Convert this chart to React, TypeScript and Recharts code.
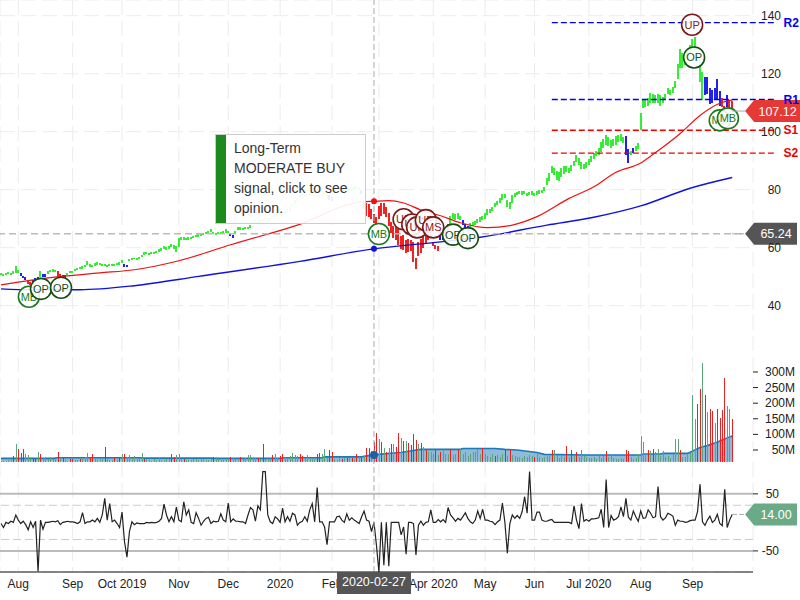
import {
  Area,
  Bar,
  CartesianGrid,
  Cell,
  ComposedChart,
  Line,
  ReferenceDot,
  ReferenceLine,
  XAxis,
  YAxis,
} from "recharts"

const FONT = '"Liberation Sans", Arial, sans-serif'

// daily price range, one entry per trading day
const highs = [
  51.3, 51.0, 51.3, 51.6, 51.2, 52.0, 53.6, 52.4, 51.3, 50.4,
  49.8, 48.4, 48.2, 48.9, 49.6, 49.9, 52.0, 51.0, 50.9, 51.8,
  52.4, 52.5, 52.4, 52.1, 50.8, 50.5, 50.6, 51.4, 52.0, 52.0,
  52.7, 53.0, 53.3, 53.6, 54.2, 55.3, 54.4, 54.0, 54.6, 54.9,
  54.8, 54.5, 54.5, 54.1, 54.4, 54.3, 54.5, 54.8, 55.0, 55.9,
  54.5, 54.2, 56.0, 56.4, 56.6, 56.5, 56.9, 57.6, 58.5, 58.5,
  58.3, 58.5, 58.6, 58.8, 59.4, 60.0, 60.5, 60.2, 60.6, 61.2,
  61.0, 60.6, 63.5, 63.8, 63.6, 63.4, 63.6, 63.8, 64.0, 64.5,
  64.6, 64.9, 65.2, 65.4, 65.9, 66.3, 65.5, 65.1, 65.3, 65.5,
  65.6, 66.3, 65.8, 64.9, 64.5, 65.8, 67.0, 67.0, 66.8, 67.0,
  67.2, 67.8, 69.0, 69.4, 69.2, 69.6, 70.0, 70.5, 70.1, 70.4,
  70.9, 71.5, 72.0, 72.4, 72.0, 72.6, 73.2, 74.0, 75.2, 76.4,
  77.2, 78.2, 78.6, 78.3, 78.6, 78.9, 78.6, 78.1, 78.3, 78.0,
  78.4, 78.8, 78.2, 78.0, 77.6, 79.0, 79.6, 80.1, 80.4, 80.0,
  80.2, 80.6, 80.6, 81.0, 81.4, 81.0, 80.0, 76.0, 75.5, 75.0,
  73.5, 71.5, 70.5, 74.5, 75.4, 75.3, 74.0, 72.0, 69.0, 67.5,
  67.5, 66.5, 64.0, 64.5, 62.5, 63.0, 62.5, 62.0, 56.5, 62.0,
  63.0, 64.5, 65.0, 65.5, 66.0, 62.0, 61.0, 60.5, 66.0, 64.0,
  66.0, 68.0, 71.0, 72.0, 71.5, 71.8, 71.0, 69.5, 68.2, 67.5,
  68.5, 69.0, 69.3, 69.8, 70.5, 71.0, 71.8, 73.2, 73.5, 74.2,
  75.4, 76.0, 77.0, 78.4, 78.6, 76.5, 75.8, 78.0, 79.0, 79.2,
  79.6, 79.4, 79.6, 79.0, 79.2, 79.4, 79.0, 79.4, 79.8, 80.0,
  80.8, 84.0, 85.7, 88.2, 87.5, 86.5, 86.0, 87.5, 88.0, 88.2,
  87.5, 88.5, 90.0, 92.0, 91.0, 89.5, 89.0, 89.5, 90.5, 91.5,
  92.5, 93.5, 94.5, 96.5, 97.5, 99.0, 98.0, 97.0, 97.5, 98.5,
  99.0, 99.3, 98.0, 98.5, 94.0, 93.5, 94.3, 95.0, 96.0, 106.3,
  111.0, 111.0, 111.5, 113.5, 113.0, 112.5, 113.0, 112.5, 112.0, 113.0,
  115.0, 114.5, 115.5, 117.5, 123.5, 128.5, 127.0, 126.0, 128.0, 130.0,
  132.0, 132.5, 129.0, 125.0, 120.5, 118.7, 119.0, 115.0, 114.5, 115.0,
  118.0, 114.0, 111.5, 109.0, 112.5, 111.0, 110.5,
]

const lows = [
  50.5, 50.2, 50.6, 50.9, 50.5, 51.0, 51.2, 51.2, 50.3, 49.6,
  49.0, 47.5, 47.2, 47.6, 48.5, 48.9, 50.0, 49.9, 49.9, 50.8,
  51.6, 51.7, 51.6, 50.0, 49.8, 49.5, 49.7, 50.5, 51.2, 51.3,
  52.0, 52.3, 52.6, 52.8, 53.2, 54.0, 53.4, 53.2, 53.8, 54.1,
  54.1, 53.8, 53.7, 53.4, 53.7, 53.6, 53.8, 54.1, 54.2, 54.8,
  53.3, 53.2, 55.3, 55.7, 56.0, 55.8, 56.2, 56.7, 57.6, 57.7,
  57.6, 57.7, 57.9, 58.0, 58.5, 59.0, 59.6, 59.2, 59.7, 60.2,
  59.6, 58.6, 60.3, 62.8, 62.7, 62.6, 62.8, 63.0, 63.2, 63.7,
  63.8, 64.1, 64.4, 64.6, 65.1, 65.4, 64.6, 64.4, 64.6, 64.7,
  64.8, 65.0, 65.0, 64.0, 63.5, 64.6, 66.0, 66.2, 66.1, 66.3,
  66.4, 66.9, 68.1, 68.5, 68.3, 68.8, 69.1, 69.6, 69.2, 69.5,
  70.0, 70.5, 71.0, 71.4, 71.0, 71.6, 72.2, 72.8, 74.0, 75.0,
  76.0, 77.0, 77.6, 77.4, 77.7, 78.0, 77.7, 77.2, 77.4, 77.1,
  77.6, 78.0, 77.3, 76.4, 76.2, 78.0, 78.6, 79.0, 79.4, 79.0,
  79.3, 79.6, 79.7, 80.0, 80.4, 80.0, 78.4, 73.5, 71.0, 70.5,
  69.8, 68.5, 67.8, 70.0, 71.0, 71.5, 70.5, 67.5, 65.0, 63.5,
  62.5, 61.0, 59.5, 59.2, 58.0, 58.5, 59.0, 55.0, 52.7, 57.0,
  58.0, 60.0, 61.5, 62.5, 63.5, 60.5, 59.5, 59.0, 62.5, 62.8,
  64.0, 66.0, 68.0, 70.0, 69.7, 70.0, 69.4, 67.8, 66.5, 65.8,
  67.0, 67.5, 67.9, 68.4, 69.0, 69.6, 70.0, 71.4, 72.0, 72.8,
  74.0, 74.6, 75.4, 76.6, 77.0, 74.0, 73.2, 75.5, 77.5, 78.0,
  78.4, 78.2, 78.4, 77.8, 78.0, 78.2, 77.7, 78.2, 78.6, 78.8,
  79.4, 81.5, 83.0, 85.6, 85.0, 83.5, 83.0, 84.5, 85.5, 86.0,
  85.8, 86.5, 88.0, 89.5, 88.5, 87.0, 87.0, 87.5, 88.5, 89.5,
  90.5, 91.5, 92.0, 93.0, 94.5, 95.5, 95.0, 94.5, 95.0, 95.5,
  96.5, 96.8, 96.0, 92.0, 89.2, 92.0, 92.6, 93.2, 94.0, 100.5,
  108.0, 108.5, 109.0, 110.0, 110.0, 110.0, 110.0, 109.0, 110.0, 111.0,
  113.0, 112.5, 113.5, 115.0, 118.0, 122.0, 122.0, 123.0, 125.0, 127.0,
  129.0, 128.0, 124.0, 117.0, 110.8, 112.5, 113.0, 109.7, 110.0, 111.0,
  111.0, 109.0, 108.4, 106.5, 108.4, 108.0, 107.0,
]

// [first day, last day] of runs drawn in blue or red, everything else is green
const blueRuns = [[8, 10], [13, 15], [17, 18], [25, 26], [50, 51], [93, 94], [133, 134], [146, 146], [178, 179], [187, 189], [253, 254], [256, 256], [285, 291], [294, 294]]
const redRuns = [[11, 12], [23, 24], [147, 177], [180, 181], [292, 293], [295, 296]]

// moving averages, read at the days listed
const ma50Days = [0, 20, 40, 54, 72, 93, 120, 146, 151, 157, 163, 170, 178, 186, 197, 207, 217, 230, 240, 249, 259, 264, 275, 283, 291, 296]
const ma50Values = [47.2, 49.7, 51.3, 52.4, 55.5, 61, 67.8, 75.8, 76, 76.2, 75.4, 73, 71, 68.6, 66.9, 67.8, 70.7, 77, 81, 86, 89.2, 92.2, 99.4, 105.6, 109.8, 111]
const ma200Days = [0, 12, 32, 54, 80, 121, 151, 179, 194, 221, 240, 259, 279, 296]
const ma200Values = [45.8, 45.5, 45.5, 46.9, 50.1, 55.3, 59.6, 62.1, 63.6, 67.8, 70.5, 74.4, 80.5, 84.2]

// volume in millions
const volumes = [
  15, 16, 15, 17, 18, 31, 69, 53, 39, 53,
  36, 33, 27, 20, 20, 45, 36, 24, 27, 22,
  28, 22, 20, 45, 22, 25, 18, 16, 21, 21,
  18, 19, 21, 24, 28, 41, 28, 38, 20, 18,
  22, 20, 58, 20, 19, 18, 28, 19, 24, 36,
  36, 27, 33, 24, 31, 22, 25, 41, 21, 22,
  18, 16, 20, 18, 24, 19, 17, 21, 20, 36,
  28, 33, 36, 22, 20, 18, 17, 19, 21, 20,
  19, 20, 22, 18, 17, 21, 27, 27, 20, 19,
  18, 17, 21, 28, 24, 20, 19, 27, 22, 24,
  33, 33, 28, 25, 24, 20, 69, 22, 19, 21,
  35, 36, 24, 31, 36, 28, 22, 31, 41, 33,
  31, 38, 31, 21, 33, 23, 20, 22, 36, 39,
  37, 53, 25, 49, 42, 20, 19, 24, 21, 23,
  24, 23, 24, 21, 36, 27, 24, 30, 55, 55,
  48, 77, 106, 85, 77, 55, 45, 55, 70, 70,
  60, 103, 87, 79, 79, 72, 65, 100, 83, 68,
  72, 60, 50, 45, 42, 38, 50, 35, 42, 48,
  38, 36, 52, 34, 38, 50, 52, 36, 44, 32,
  36, 42, 45, 52, 38, 57, 36, 30, 28, 36,
  32, 34, 28, 36, 50, 32, 52, 34, 30, 26,
  28, 24, 30, 26, 34, 32, 26, 38, 28, 24,
  26, 30, 32, 50, 50, 34, 24, 30, 28, 64,
  28, 50, 32, 42, 28, 50, 30, 26, 24, 25,
  26, 22, 30, 24, 30, 46, 26, 38, 24, 22,
  20, 24, 22, 50, 46, 26, 22, 24, 38, 96,
  75, 36, 50, 46, 52, 44, 52, 30, 46, 28,
  32, 24, 36, 85, 85, 50, 28, 28, 36, 40,
  226, 149, 197, 247, 330, 226, 172, 181, 176, 136,
  181, 153, 178, 282, 191, 181, 149,
]
const redVolumeDays = [5, 7, 8, 9, 13, 14, 16, 23, 25, 28, 29, 32, 36, 37, 42, 46, 48, 50, 58, 69, 70, 74, 86, 93, 97, 104, 106, 110, 113, 114, 121, 122, 128, 129, 133, 134, 138, 140, 142, 144, 146, 148, 149, 151, 152, 154, 156, 158, 160, 161, 163, 165, 166, 167, 168, 170, 172, 176, 178, 182, 185, 195, 200, 204, 206, 216, 223, 229, 231, 233, 245, 253, 254, 262, 264, 275, 282, 283, 285, 287, 288, 290, 291, 292, 293, 296]
const volumeAvgDays = [0, 21, 23, 56, 58, 85, 87, 113, 114, 130, 131, 146, 148, 152, 160, 162, 165, 170, 186, 187, 200, 204, 209, 213, 217, 220, 237, 259, 260, 267, 268, 278, 283, 286, 289, 292, 295, 296]
const volumeAvgValues = [23, 23, 25, 25, 24, 24, 23, 23, 25, 25, 28, 28, 31, 35, 41, 42, 46, 52, 52, 55, 55, 52, 50, 46, 42, 36, 34, 34, 37, 37, 39, 39, 58, 64, 72, 82, 92, 95]

// oscillator in the lower panel
const oscillator = [
  -2, -9, 0, -2, 2, 0, 13, 4, -2, 2,
  -4, -13, 1, -9, 2, -86, 4, -12, 0, 0,
  1, 2, 1, 3, -4, 0, 1, 2, 1, 1,
  0, -2, 1, 17, -2, 1, 1, 4, 1, 7,
  0, 13, 42, 4, 33, 1, 4, -2, -9, 18,
  -34, -61, -16, 1, -4, -1, -2, -2, -2, 0,
  -1, 0, -1, 0, 2, 7, 32, 13, 1, 10,
  1, 27, 4, 1, 36, 13, 22, 0, -2, 17,
  7, -5, 2, 7, 9, -2, 2, 1, 2, 15,
  4, 1, 34, 1, 6, 2, 2, 1, 1, -2,
  13, 26, 22, 2, 29, 22, 89, 89, 13, 1,
  -2, 10, 6, 0, 25, 1, 10, 2, 16, 13,
  -5, 0, 2, 10, 2, 22, 33, 1, 61, 1,
  1, -8, -39, 1, 1, 1, 10, 11, 4, 0,
  15, 4, 8, 4, 1, -2, 10, 20, 4, 2,
  -16, 0, -40, -87, 0, -75, 0, -77, 0, 0,
  0, 0, -22, -8, -56, 0, 0, -2, -57, -5,
  2, -5, 0, 1, 22, 0, 0, 5, 1, 5,
  0, 26, 13, 8, 2, 7, 4, 10, 17, 7,
  1, -2, 4, 20, 7, 23, 4, 4, 2, 1,
  -4, 1, 4, 34, 0, -54, -2, 13, 7, 12,
  7, 19, 45, 16, 89, 4, 4, 18, 18, 4,
  2, 2, 4, 5, 0, 0, 0, 0, 0, 0,
  0, -2, 29, 4, -11, 33, 2, 5, 2, 6,
  6, 7, 8, 23, -9, 75, -9, 12, 4, 6,
  10, 27, 10, 42, 9, 4, 20, 10, 2, 20,
  7, 8, 22, 16, 8, 10, 63, 10, 4, 8,
  16, 14, 11, -5, 4, 2, 2, 0, 1, 3,
  4, 4, 19, 67, 1, -5, 4, 11, 0, 4,
  14, -2, -6, 58, -9, 4, 14,
]

const monthDays = [7, 29, 49, 72, 92, 113, 134, 153, 175, 196, 216, 238, 259, 280]
// the March label sits under the date box in the picture, only its grid line shows
const monthLabels = ["Aug", "Sep", "Oct 2019", "Nov", "Dec", "2020", "Feb", "", "Apr 2020", "May", "Jun", "Jul 2020", "Aug", "Sep"]

const priceTicks = [40, 60, 80, 100, 120, 140]
const volumeTicks = [50, 100, 150, 200, 250, 300]
const oscillatorTicks = [-50, 50]

const levelNames = ["R2", "R1", "S1", "S2"]
const levelValues = [137.6, 111.1, 100.5, 92.6]
const levelColors = ["#0000ee", "#0000ee", "#ee0000", "#ee0000"]

const signalNames = ["MB", "OP", "OP", "MB", "UP", "UP", "UP", "UP", "MS", "OP", "OP", "UP", "OP", "MB", "MB"]
const signalDays = [11.3, 16.2, 24.3, 153, 163, 166.5, 168.5, 172, 175, 183, 189, 279.8, 280.6, 291, 294.3]
const signalPrices = [43.1, 45.8, 46.2, 64.7, 69.8, 68, 67, 69.5, 67, 64.5, 63.3, 136.9, 125.6, 103.9, 104.6]

const crosshairDay = 151
const lastDay = 296

const colorOfDay = (day: number) => {
  if (blueRuns.some(([a, b]) => day >= a && day <= b)) return "#2222f0"
  if (redRuns.some(([a, b]) => day >= a && day <= b)) return "#f02222"
  return "#33ee33"
}

const rows = highs.map((high, day) => {
  const a50 = ma50Days.indexOf(day)
  const a200 = ma200Days.indexOf(day)
  const avg = volumeAvgDays.indexOf(day)
  return {
    day,
    range: [lows[day], high],
    volume: [12, volumes[day]],
    osc: oscillator[day],
    ma50: a50 >= 0 ? ma50Values[a50] : null,
    ma200: a200 >= 0 ? ma200Values[a200] : null,
    volumeAvg: avg >= 0 ? volumeAvgValues[avg] : null,
  }
})

const dayDomain: [number, number] = [-0.405, 304.45]
const priceDomain: [number, number] = [-51.83, 145.41]
const volumeDomain: [number, number] = [-341, 1492]
const oscDomain: [number, number] = [-86.8, 916]

function SignalMark({ cx, cy, name }: any) {
  const buy = name === "MB"
  const open = name === "OP"
  const stroke = buy ? "#1a7a1a" : open ? "#164d16" : "#7a1a1a"
  const fill = buy ? "#1a7a1a" : open ? "#164d16" : "#8e2020"
  return (
    <g>
      <circle cx={cx} cy={cy} r={10.5} fill="#fff" fillOpacity={0.88} stroke={stroke} strokeWidth={1.6} />
      <text x={cx} y={cy + 4} textAnchor="middle" fontFamily={FONT} fontSize={11} fill={fill}>
        {name}
      </text>
    </g>
  )
}

function ValueTag({ cx, cy, text, fill, lead }: any) {
  const left = cx + 13
  const body = lead === "long" ? 797 : 800
  return (
    <g>
      <line x1={cx} x2={left} y1={cy} y2={cy} stroke="#aaa" strokeDasharray={lead === "long" ? "5 2" : undefined} />
      <path d={`M${left} ${cy} L${left + 9} ${cy - 11} L${body} ${cy - 11} L${body} ${cy + 11} L${left + 9} ${cy + 11} Z`} fill={fill} />
      <text x={(left + 10 + body) / 2} y={cy + 4.5} textAnchor="middle" fontFamily={FONT} fontSize={12.5} fill="#fff">
        {text}
      </text>
    </g>
  )
}

function PriceTick({ y, payload }: any) {
  return (
    <text x={781} y={y + 4} textAnchor="end" fontFamily={FONT} fontSize={12} fill="#222">
      {payload.value}
    </text>
  )
}

function DashTick({ y, payload, suffix, at }: any) {
  return (
    <g>
      <line x1={753} x2={758} y1={y} y2={y} stroke="#222" />
      <text x={at} y={y + 4} textAnchor="end" fontFamily={FONT} fontSize={12} fill="#222">
        {payload.value}
        {suffix}
      </text>
    </g>
  )
}

export default function App() {
  return (
    <div style={{ position: "absolute", left: 0, top: 0, width: 800, height: 600, overflow: "hidden", background: "#fff" }}>
      <ComposedChart width={800} height={600} data={rows} margin={{ top: 0, right: 47, bottom: 0, left: 0 }}>
        <CartesianGrid yAxisId="price" stroke="#ececec" strokeDasharray="15 6" />
        <XAxis
          type="number"
          dataKey="day"
          domain={dayDomain}
          ticks={monthDays}
          interval={0}
          height={28}
          tickLine={false}
          tickSize={0}
          tickMargin={7}
          axisLine={{ stroke: "#111", strokeWidth: 1 }}
          tick={{ fontFamily: FONT, fontSize: 12, fill: "#222" }}
          tickFormatter={(d: number) => monthLabels[monthDays.indexOf(d)]}
        />
        <XAxis xAxisId="vol" type="number" dataKey="day" domain={dayDomain} hide />
        <YAxis yAxisId="price" orientation="right" mirror interval={0} domain={priceDomain} ticks={priceTicks} axisLine={false} tickLine={false} tick={<PriceTick />} />
        <YAxis yAxisId="vol" orientation="right" mirror interval={0} domain={volumeDomain} ticks={volumeTicks} axisLine={false} tickLine={false} tick={<DashTick suffix="M" at={795} />} />
        <YAxis yAxisId="osc" orientation="right" mirror interval={0} domain={oscDomain} ticks={oscillatorTicks} axisLine={false} tickLine={false} tick={<DashTick suffix="" at={779} />} />

        <ReferenceLine yAxisId="osc" y={50} stroke="#bbb" strokeWidth={2} />
        <ReferenceLine yAxisId="osc" y={-50} stroke="#bbb" strokeWidth={2} />
        <ReferenceLine yAxisId="osc" y={30} stroke="#ccc" strokeDasharray="8 4" />
        <ReferenceLine yAxisId="osc" y={-30} stroke="#ccc" strokeDasharray="8 4" />

        <Bar yAxisId="vol" xAxisId="vol" dataKey="volume" barSize={1} shapeRendering="crispEdges" isAnimationActive={false}>
          {rows.map((r) => (
            <Cell key={r.day} fill={redVolumeDays.includes(r.day) ? "#e62222" : "#5aa57c"} />
          ))}
        </Bar>
        <Area
          yAxisId="vol"
          dataKey="volumeAvg"
          baseValue={12}
          connectNulls
          type="linear"
          stroke="#1f77b4"
          strokeWidth={1.6}
          fill="#1f77b4"
          fillOpacity={0.5}
          dot={false}
          activeDot={false}
          isAnimationActive={false}
        />
        <Bar yAxisId="price" dataKey="range" barSize={2} shapeRendering="crispEdges" isAnimationActive={false}>
          {rows.map((r) => (
            <Cell key={r.day} fill={colorOfDay(r.day)} />
          ))}
        </Bar>
        <Line yAxisId="price" dataKey="ma50" connectNulls type="monotone" stroke="#ee1111" strokeWidth={1.2} dot={false} activeDot={false} isAnimationActive={false} />
        <Line yAxisId="price" dataKey="ma200" connectNulls type="monotone" stroke="#1111dd" strokeWidth={1.4} dot={false} activeDot={false} isAnimationActive={false} />
        <Line yAxisId="osc" dataKey="osc" type="linear" stroke="#222" strokeWidth={1.2} dot={false} activeDot={false} isAnimationActive={false} />

        {levelNames.map((name, k) => (
          <ReferenceLine
            key={name}
            yAxisId="price"
            ifOverflow="visible"
            segment={[
              { x: 223, y: levelValues[k] },
              { x: 314, y: levelValues[k] },
            ]}
            stroke={levelColors[k]}
            strokeWidth={1.3}
            strokeDasharray="6 3"
            label={{ value: name, position: "right", offset: 7, fill: levelColors[k], fontSize: 12, fontWeight: "bold", fontFamily: FONT }}
          />
        ))}

        <ReferenceLine yAxisId="price" x={crosshairDay} stroke="#aaa" strokeDasharray="6 3" />
        <ReferenceLine yAxisId="price" y={64.8} stroke="#bbb" strokeWidth={1.4} strokeDasharray="7 4" />
        <ReferenceDot yAxisId="price" x={crosshairDay} y={76} r={3} fill="#ee1111" stroke="none" />
        <ReferenceDot yAxisId="price" x={crosshairDay} y={59.6} r={3} fill="#1111dd" stroke="none" />
        <ReferenceDot yAxisId="vol" x={crosshairDay} y={34} r={4} fill="#1f5f9f" stroke="none" />

        {signalNames.map((name, k) => (
          <ReferenceDot
            key={k}
            yAxisId="price"
            x={signalDays[k]}
            y={signalPrices[k]}
            shape={(p: any) => <SignalMark cx={p.cx} cy={p.cy} name={name} />}
          />
        ))}

        <ReferenceDot yAxisId="price" x={lastDay} y={107.12} shape={(p: any) => <ValueTag cx={p.cx} cy={p.cy} text="107.12" fill="#e53935" />} />
        <ReferenceDot yAxisId="price" x={lastDay} y={64.8} shape={(p: any) => <ValueTag cx={p.cx} cy={p.cy} text="65.24" fill="#555" lead="long" />} />
        <ReferenceDot yAxisId="osc" x={lastDay} y={14} shape={(p: any) => <ValueTag cx={p.cx} cy={p.cy} text="14.00" fill="#6aaa87" lead="long" />} />
      </ComposedChart>

      <div
        style={{
          position: "absolute",
          left: 215,
          top: 134,
          width: 149,
          height: 88,
          border: "1px solid #ccc",
          background: "rgba(255,255,255,0.92)",
          fontFamily: FONT,
          fontSize: 14,
          lineHeight: "20px",
          color: "#333",
        }}
      >
        <div style={{ position: "absolute", left: 0, top: 0, width: 10, height: 88, background: "#1c8a1c" }} />
        <div style={{ position: "absolute", left: 18, top: 3, width: 128 }}>Long-Term MODERATE BUY signal, click to see opinion.</div>
      </div>

      <div
        style={{
          position: "absolute",
          left: 337,
          top: 572,
          width: 74,
          height: 22,
          background: "#555",
          color: "#fff",
          fontFamily: FONT,
          fontSize: 12.5,
          lineHeight: "21px",
          textAlign: "center",
        }}
      >
        2020-02-27
      </div>
    </div>
  )
}
